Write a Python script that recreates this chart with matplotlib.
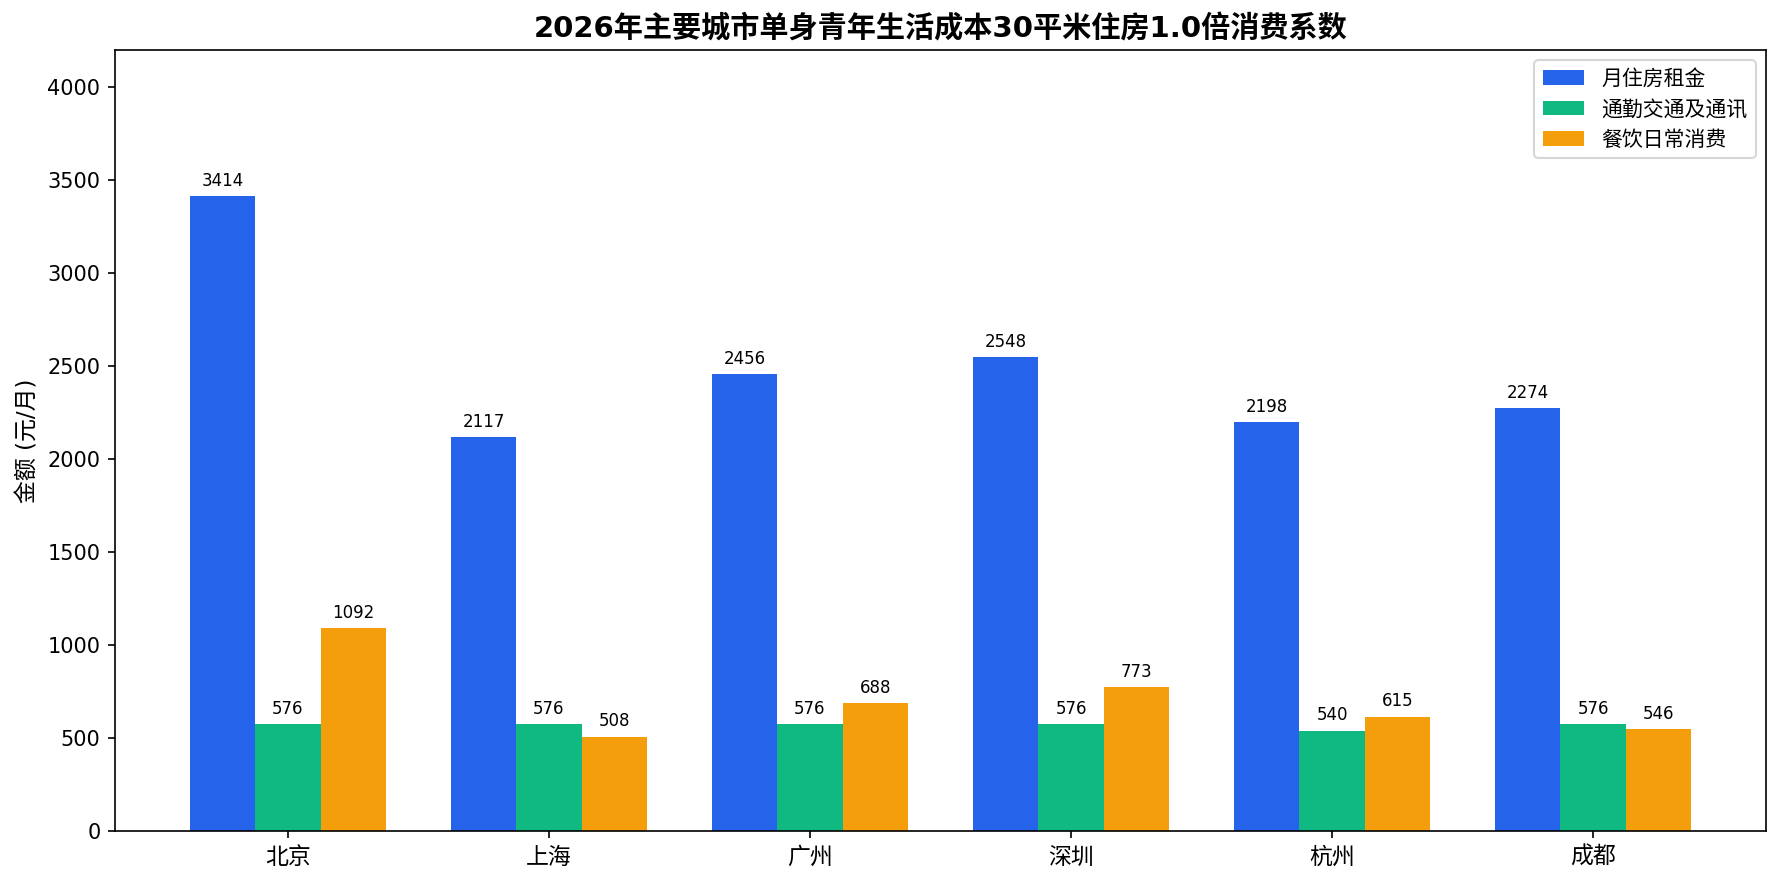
import matplotlib
matplotlib.use("Agg")
import matplotlib.pyplot as plt
import numpy as np

plt.rcParams['font.family'] = ['DejaVu Sans', 'Noto Sans CJK SC']
plt.rcParams['axes.unicode_minus'] = False

cities = ["北京", "上海", "广州", "深圳", "杭州", "成都"]
series_names = ["月住房租金", "通勤交通及通讯", "餐饮日常消费"]
rent = [3414, 2117, 2456, 2548, 2198, 2274]
transport = [576, 576, 576, 576, 540, 576]
food = [1092, 508, 688, 773, 615, 546]
colors = ["#2563EB", "#10B981", "#F59E0B"]
title = "2026年主要城市单身青年生活成本30平米住房1.0倍消费系数"
ylabel = "金额 (元/月)"

W, H, DPI = 1782, 884, 150
fig = plt.figure(figsize=(W / DPI, H / DPI), dpi=DPI)
ax = fig.add_axes([115 / W, 1 - 831 / H, (1766 - 115) / W, (831 - 50) / H])

x = np.arange(len(cities))
width = 0.25
for i, (vals, name, c) in enumerate(zip([rent, transport, food], series_names, colors)):
    bars = ax.bar(x + (i - 1) * width, vals, width, label=name, color=c)
    for b, v in zip(bars, vals):
        ax.annotate(f"{v}", (b.get_x() + b.get_width() / 2, b.get_height()),
                    xytext=(0, 3), textcoords="offset points",
                    ha="center", va="bottom", fontsize=8)

ax.set_xticks(x)
ax.set_xticklabels(cities, fontsize=11)
ax.set_ylim(0, max(rent) * 1.23)
ax.set_ylabel(ylabel, fontsize=11)
ax.tick_params(axis='y', labelsize=10)
ax.set_title(title, fontsize=14, fontweight='bold')
ax.legend(loc='upper right', fontsize=10)

fig.savefig("out.png", dpi=DPI)
